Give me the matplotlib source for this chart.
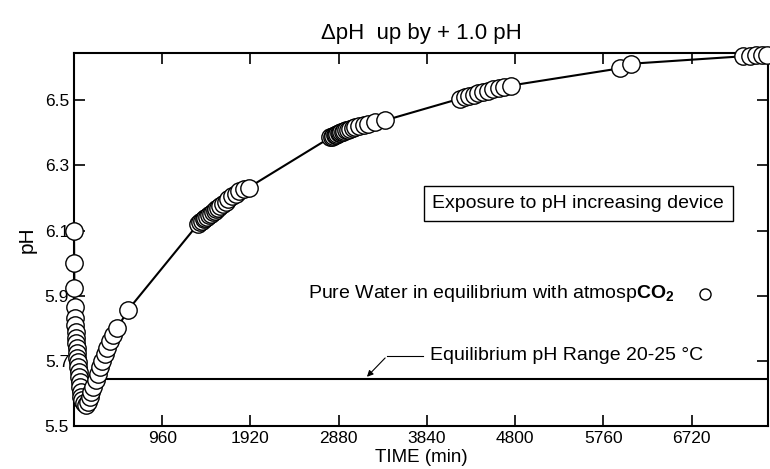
import numpy as np
import matplotlib.pyplot as plt

plt.rcParams['font.family'] = ['Liberation Sans', 'DejaVu Sans']
plt.rcParams['mathtext.fontset'] = 'custom'
plt.rcParams['mathtext.rm'] = 'Liberation Sans'
plt.rcParams['mathtext.bf'] = 'Liberation Sans:bold'

# time (min) and pH
time_min = [0, 2, 4, 6, 10, 14, 18, 22, 26, 30, 34, 38, 42, 46, 50, 55, 60, 66, 72, 80, 90, 105, 130,
            150, 170, 190, 210, 235, 260, 285, 310, 335, 360, 390, 420, 470, 590,
            1350, 1370, 1390, 1410, 1430, 1450, 1470, 1490, 1510, 1530, 1550, 1570, 1590, 1620, 1650,
            1680, 1720, 1760, 1800, 1850, 1900,
            2790, 2805, 2820, 2835, 2850, 2865, 2880, 2895, 2910, 2925, 2940, 2960, 2980, 3000,
            3030, 3060, 3100, 3150, 3200, 3270, 3380,
            4200, 4250, 4300, 4350, 4400, 4450, 4500, 4560, 4620, 4680, 4750,
            5940, 6060,
            7280, 7350, 7420, 7480, 7540]
ph = [6.10, 6.00, 5.925, 5.866, 5.83, 5.81, 5.79, 5.77, 5.755, 5.74, 5.725, 5.71, 5.695, 5.68, 5.665, 5.65, 5.635, 5.62, 5.605, 5.59, 5.58, 5.57, 5.565,
      5.575, 5.59, 5.605, 5.62, 5.64, 5.66, 5.68, 5.70, 5.72, 5.74, 5.76, 5.78, 5.80, 5.857,
      6.12, 6.125, 6.13, 6.134, 6.139, 6.143, 6.148, 6.152, 6.157, 6.161, 6.166, 6.17, 6.175, 6.182, 6.189,
      6.196, 6.205, 6.213, 6.22, 6.226, 6.232,
      6.386, 6.388, 6.39, 6.392, 6.394, 6.396, 6.398, 6.4, 6.402, 6.404, 6.406, 6.408, 6.41, 6.412,
      6.414, 6.417, 6.42, 6.424, 6.428, 6.432, 6.438,
      6.505, 6.509, 6.513, 6.517, 6.521, 6.525, 6.529, 6.533, 6.537, 6.541, 6.545,
      6.598, 6.612,
      6.635, 6.637, 6.638, 6.64, 6.64]

eq_ph = 5.645
eq_start = 320

x_ticks = [960, 1920, 2880, 3840, 4800, 5760, 6720]
y_ticks = [5.5, 5.7, 5.9, 6.1, 6.3, 6.5]

fig = plt.figure(figsize=(7.7, 4.69), dpi=100)
ax = fig.add_axes([0.0961, 0.0917, 0.9013, 0.7953])

ax.plot(time_min, ph, '-', color='black', lw=1.5, zorder=2)
ax.plot(time_min, ph, 'o', ms=12.5, mfc='white', mec='black', mew=1.0, zorder=3, clip_on=False)

# equilibrium range line with leader
ax.hlines(eq_ph, eq_start, 7550, color='black', lw=1.5)
ax.plot([3797, 3406], [5.715, 5.715], color='black', lw=0.8)
ax.annotate('', xy=(3166, eq_ph), xytext=(3406, 5.715),
            arrowprops=dict(arrowstyle='-|>', color='black', lw=0.8, mutation_scale=9))
ax.text(3873, 5.715, 'Equilibrium pH Range 20-25 \u00b0C', fontsize=14, va='center', ha='left')

ax.text(2547, 5.906, r'Pure Water in equilibrium with atmosp$\mathbf{CO_2}$', fontsize=14,
        va='center', ha='left')
ax.plot([6862], [5.906], 'o', ms=8, mfc='white', mec='black', mew=1.0)

ax.text(3900, 6.183, 'Exposure to pH increasing device', fontsize=14, va='center', ha='left',
        bbox=dict(boxstyle='square,pad=0.45', fc='white', ec='black', lw=1))

ax.set_xlim(0, 7550)
ax.set_ylim(5.5, 6.645)
ax.set_xticks(x_ticks)
ax.set_yticks(y_ticks)
ax.set_yticklabels(['%.1f' % v for v in y_ticks])
ax.tick_params(direction='in', length=8, width=1.2, top=True, right=True, labelsize=12.5)
for s in ax.spines.values():
    s.set_linewidth(1.5)

ax.set_xlabel('TIME (min)', fontsize=13.5, labelpad=2)
ax.set_ylabel('pH', fontsize=15, labelpad=6)
ax.set_title('\u0394pH  up by + 1.0 pH', fontsize=16, pad=10)

fig.savefig('out.png', dpi=100)
